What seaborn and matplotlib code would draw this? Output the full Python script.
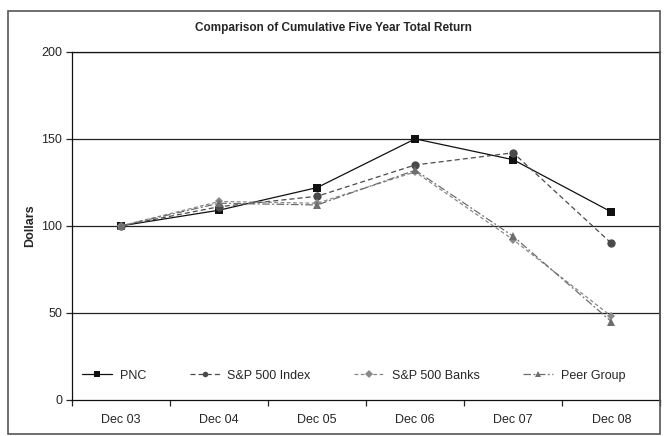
import matplotlib
matplotlib.use("Agg")
import matplotlib.pyplot as plt
import seaborn as sns
import pandas as pd
from matplotlib.patches import Rectangle
from matplotlib.ticker import FixedLocator

# DATA
years = ["Dec 03", "Dec 04", "Dec 05", "Dec 06", "Dec 07", "Dec 08"]
pnc = [100, 109, 122, 150, 138, 108]
sp500_index = [100, 111, 117, 135, 142, 90]
sp500_banks = [100, 114, 113, 131, 92, 48]
peer_group = [100, 113, 112, 132, 94, 45]

series_names = ["PNC", "S&P 500 Index", "S&P 500 Banks", "Peer Group"]
series_values = [pnc, sp500_index, sp500_banks, peer_group]

rows = []
for name, vals in zip(series_names, series_values):
    for yr, v in zip(years, vals):
        rows.append({"Year": yr, "Value": v, "Series": name})
df = pd.DataFrame(rows)

# STYLE
sns.set_style("white")
plt.rcParams["font.family"] = ["Liberation Sans", "DejaVu Sans"]

palette = {"PNC": "#111111", "S&P 500 Index": "#4a4a4a",
           "S&P 500 Banks": "#8a8a8a", "Peer Group": "#6e6e6e"}
markers = {"PNC": "s", "S&P 500 Index": "o",
           "S&P 500 Banks": "D", "Peer Group": "^"}
dashes = {"PNC": "", "S&P 500 Index": (4, 2.5),
          "S&P 500 Banks": (3, 2), "Peer Group": (6, 2, 1.5, 2)}

fig = plt.figure(figsize=(6.67, 4.36), dpi=100)
ax = fig.add_axes([0.108, 0.083, 0.882, 0.798])

# horizontal grid lines
for yv in [50, 100, 150, 200]:
    ax.axhline(yv, color="#222222", lw=0.9, zorder=0)

sns.lineplot(data=df, x="Year", y="Value", hue="Series", style="Series",
             palette=palette, markers=markers, dashes=dashes,
             markersize=6, linewidth=0.9, markeredgewidth=0,
             sort=False, ax=ax)

# smaller diamonds
for line in ax.get_lines():
    if line.get_marker() == "D":
        line.set_markersize(4.5)

ax.set_xlim(-0.5, 5.5)
ax.set_ylim(0, 200)
ax.set_yticks([0, 50, 100, 150, 200])
ax.tick_params(axis="y", labelsize=9, length=4, width=0.9,
               direction="out", left=True, pad=3)
ax.xaxis.set_minor_locator(FixedLocator([i - 0.5 for i in range(len(years) + 1)]))
ax.tick_params(axis="x", which="major", length=0, labelsize=9, pad=10)
ax.tick_params(axis="x", which="minor", length=4, width=0.9,
               direction="out", bottom=True)

ax.set_xlabel("")
ax.set_ylabel("Dollars", fontsize=9, fontweight="bold", labelpad=4)

for side in ["left", "bottom", "top"]:
    ax.spines[side].set_color("#111111")
    ax.spines[side].set_linewidth(0.9)
ax.spines["right"].set_color("#555555")
ax.spines["right"].set_linewidth(1.2)

fig.text(0.5, 0.935, "Comparison of Cumulative Five Year Total Return",
         ha="center", va="center", fontsize=8.5, fontweight="bold")

handles, labels = ax.get_legend_handles_labels()
leg = ax.legend(handles, labels, loc="center left",
                bbox_to_anchor=(0.017, 0.069), borderaxespad=0, borderpad=0,
                ncol=4, frameon=False, fontsize=9, handlelength=2.4,
                columnspacing=3.5, handletextpad=0.6)
for h in leg.legend_handles:
    h.set_markersize(4)

# outer frame
fig.patches.append(Rectangle((0.012, 0.005), 0.978, 0.97,
                             transform=fig.transFigure, fill=False,
                             edgecolor="#555555", lw=1.2))

fig.savefig("out.png", dpi=100)
